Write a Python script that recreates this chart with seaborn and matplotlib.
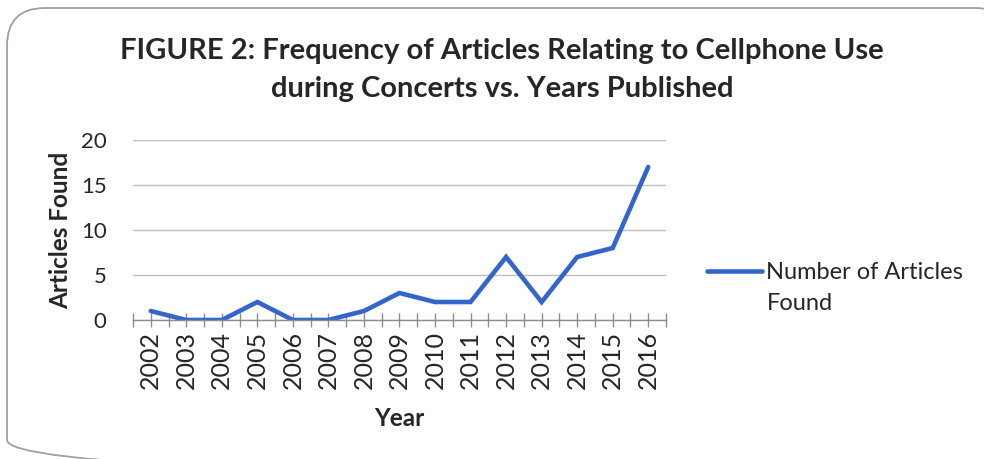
import matplotlib
matplotlib.use("Agg")
import matplotlib.pyplot as plt
from matplotlib.patches import FancyBboxPatch
from matplotlib.ticker import FixedLocator
import seaborn as sns
import pandas as pd

years = ["2002", "2003", "2004", "2005", "2006", "2007", "2008", "2009",
         "2010", "2011", "2012", "2013", "2014", "2015", "2016"]
articles = [1, 0, 0, 2, 0, 0, 1, 3, 2, 2, 7, 2, 7, 8, 17]
series_line1 = "Number of Articles"
series_line2 = "Found"
title = "FIGURE 2: Frequency of Articles Relating to Cellphone Use\nduring Concerts vs. Years Published"

sns.set_theme(style="white")
plt.rcParams["font.family"] = ["Lato", "DejaVu Sans"]

W, H = 984, 459
df = pd.DataFrame({"Year": list(range(len(years))), "Articles": articles,
                   "series": series_line1})

fig = plt.figure(figsize=(W / 100, H / 100), dpi=100)

# background layer in pixel coordinates for the rounded chart frame
bg = fig.add_axes([0, 0, 1, 1])
bg.set_xlim(0, W)
bg.set_ylim(H, 0)
bg.axis("off")
frame = FancyBboxPatch((7, 8), 1006, 470,
                       boxstyle="round,pad=0,rounding_size=38",
                       facecolor="none", edgecolor="#A0A0A0", linewidth=1.3,
                       clip_on=False)
bg.add_patch(frame)

ax = fig.add_axes([133 / W, 1 - 320 / H, (666 - 133) / W, 180 / H])
ax.patch.set_alpha(0)

sns.lineplot(data=df, x="Year", y="Articles", hue="series",
             palette=["#3366CC"], linewidth=3.3, ax=ax,
             solid_capstyle="round", solid_joinstyle="miter")

n = len(years)
ax.set_xlim(-0.5, n - 0.5)
ax.set_ylim(0, 20)
ax.set_yticks([0, 5, 10, 15, 20])
ax.yaxis.grid(True, color="#BFBFBF", linewidth=1)
ax.set_axisbelow(True)
ax.xaxis.set_major_locator(FixedLocator(list(range(n))))
ax.set_xticklabels(years, rotation=90, fontsize=18)
ax.xaxis.set_minor_locator(FixedLocator([i - 0.5 for i in range(n + 1)]))
ax.tick_params(axis="x", which="both", direction="inout", length=10,
               width=1, color="#8C8C8C", bottom=True, pad=3)
ax.tick_params(axis="y", length=0, labelsize=16, pad=19)
for s in ["top", "right", "left"]:
    ax.spines[s].set_visible(False)
ax.spines["bottom"].set_color("#8C8C8C")
ax.spines["bottom"].set_linewidth(1)

ax.set_xlabel("Year", fontsize=17.5, fontweight="bold", labelpad=13)
ax.set_ylabel("Articles Found", fontsize=17.5, fontweight="bold", labelpad=6)

fig.text(502 / W, 1 - 38 / H, title, ha="center", va="top", fontsize=21,
         fontweight="bold", linespacing=1.55)

leg = ax.legend(loc="center left", bbox_to_anchor=(1.06, 0.265), frameon=False,
                fontsize=17, handlelength=2.3, handletextpad=0.2,
                borderaxespad=0)
for h in leg.get_lines():
    h.set_linewidth(3.3)

# second line of the legend entry, aligned under the first
fig.canvas.draw()
lt = leg.get_texts()[0]
bb = lt.get_window_extent()
fig.text(bb.x0 / W, (bb.y0 - 31) / H, series_line2, fontsize=17,
         ha="left", va="bottom", color=lt.get_color())

fig.savefig("out.png", dpi=100)
